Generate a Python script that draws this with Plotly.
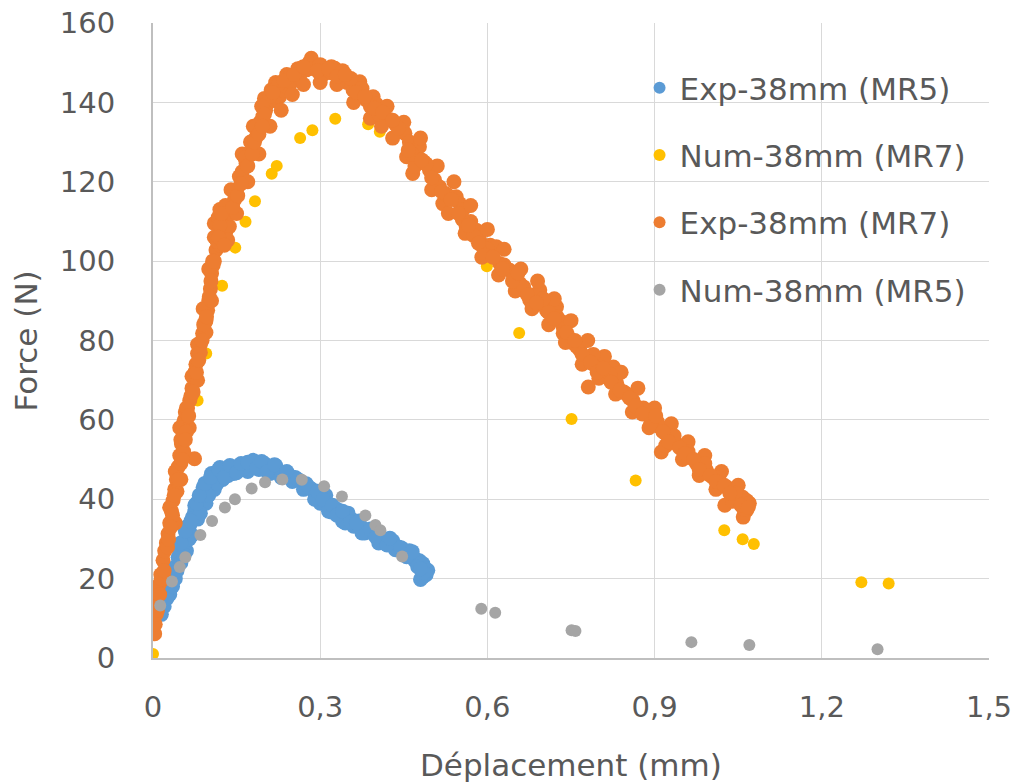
import plotly.graph_objects as go

# ---------------- data ----------------
x_tick_vals = [0, 0.3, 0.6, 0.9, 1.2, 1.5]
x_tick_text = ["0", "0,3", "0,6", "0,9", "1,2", "1,5"]
y_tick_vals = [0, 20, 40, 60, 80, 100, 120, 140, 160]
y_tick_text = ["0", "20", "40", "60", "80", "100", "120", "140", "160"]

series_names = ["Exp-38mm (MR5)", "Num-38mm (MR7)", "Exp-38mm (MR7)", "Num-38mm (MR5)"]

exp_mr5_x = [0.012, 0.018, 0.022, 0.028, 0.033, 0.036, 0.040, 0.045, 0.048, 0.052, 0.057, 0.062, 0.066,
             0.071, 0.075, 0.080, 0.087, 0.092, 0.098, 0.107, 0.112, 0.120, 0.131, 0.140, 0.148, 0.155,
             0.165, 0.174, 0.182, 0.190, 0.198, 0.207, 0.215, 0.225, 0.235, 0.245, 0.255, 0.265, 0.275,
             0.285, 0.292, 0.299, 0.308, 0.318, 0.327, 0.335, 0.345, 0.352, 0.359, 0.368, 0.378, 0.387,
             0.395, 0.405, 0.414, 0.422, 0.431, 0.440, 0.450, 0.461, 0.470, 0.478, 0.484, 0.488, 0.493,
             0.490, 0.484, 0.480,
             0.050, 0.060, 0.070, 0.080, 0.095, 0.110, 0.125, 0.145, 0.170,
             0.030, 0.045, 0.060, 0.075, 0.090, 0.105, 0.120, 0.180, 0.200, 0.220,
             0.310, 0.330, 0.350, 0.370, 0.400, 0.430, 0.460,
             0.300, 0.320, 0.340, 0.360, 0.380, 0.410, 0.440, 0.470,
             0.040, 0.055, 0.065, 0.085, 0.100, 0.115, 0.135, 0.160, 0.190, 0.210, 0.230, 0.250,
             0.270, 0.290, 0.315, 0.345, 0.375, 0.405, 0.435, 0.455, 0.475, 0.485, 0.030, 0.020,
             0.015, 0.025, 0.035, 0.043, 0.050, 0.058, 0.068, 0.078, 0.083, 0.093, 0.103, 0.118,
             0.128, 0.138, 0.150, 0.158, 0.170, 0.186, 0.195, 0.205, 0.218, 0.240, 0.260, 0.280,
             0.295, 0.305, 0.322, 0.330, 0.340, 0.355, 0.365, 0.390, 0.400, 0.420, 0.425, 0.445,
             0.465, 0.480]
exp_mr5_y = [12.0, 14.5, 16.0, 18.0, 19.0, 21.0, 23.0, 25.4, 27.0, 28.5, 29.6, 31.5, 33.5,
             35.5, 37.0, 38.5, 40.6, 42.0, 43.5, 44.8, 46.0, 46.5, 47.3, 47.5, 48.2, 48.1,
             48.4, 48.6, 49.0, 48.5, 47.9, 48.0, 47.7, 46.8, 46.4, 46.0, 45.5, 44.5, 43.9,
             42.5, 41.5, 40.6, 39.5, 38.0, 37.0, 36.4, 35.5, 35.0, 34.7, 33.5, 32.5, 32.0,
             31.3, 30.5, 30.0, 29.5, 28.8, 28.0, 27.2, 26.3, 25.0, 24.5, 23.8, 22.5, 22.1,
             21.0, 20.4, 19.8,
             24.0, 27.0, 31.0, 35.0, 39.0, 42.5, 45.0, 46.5, 47.0,
             22.0, 28.0, 33.0, 38.5, 43.0, 46.5, 48.0, 49.8, 49.0, 48.5,
             41.0, 37.5, 36.5, 34.5, 32.0, 29.5, 27.0,
             39.0, 36.8, 34.5, 33.2, 31.5, 29.5, 27.2, 24.5,
             20.0, 26.0, 30.0, 36.5, 41.0, 44.0, 46.0, 47.5, 47.5, 46.5, 45.5, 44.5,
             42.5, 40.0, 37.0, 34.0, 31.5, 29.0, 27.3, 25.5, 23.0, 21.5, 16.0, 13.0,
             11.0, 15.0, 18.0, 22.0, 29.0, 32.0, 34.5, 39.0, 41.0, 44.0, 45.5, 47.5,
             45.5, 48.5, 46.7, 49.0, 49.3, 47.8, 49.5, 47.0, 48.7, 47.0, 45.0, 43.0,
             42.0, 40.0, 38.5, 36.0, 37.0, 34.2, 34.0, 32.5, 30.5, 28.5, 30.2, 27.8,
             26.8, 22.5]

num_mr7_x = [0.0, 0.080, 0.0955, 0.124, 0.1476, 0.166, 0.183, 0.213, 0.222, 0.264, 0.286, 0.327,
             0.386, 0.407, 0.599, 0.657, 0.751, 0.866, 1.025, 1.058, 1.078, 1.271, 1.320]
num_mr7_y = [1.0, 64.9, 76.7, 93.8, 103.4, 109.9, 115.1, 122.0, 124.0, 131.0, 133.0, 135.9,
             134.5, 132.6, 98.7, 81.9, 60.2, 44.7, 32.2, 29.9, 28.7, 19.1, 18.8]

exp_mr7_x = [0.003, 0.004, 0.006, 0.007, 0.009, 0.011, 0.014, 0.018, 0.021, 0.024, 0.027, 0.030, 0.033,
             0.036, 0.039, 0.042, 0.045, 0.048, 0.051, 0.054, 0.056, 0.048, 0.0745, 0.058, 0.062, 0.066,
             0.070, 0.0745, 0.077, 0.080, 0.085, 0.089, 0.093, 0.098, 0.100, 0.103, 0.105, 0.108, 0.113,
             0.110, 0.110, 0.117, 0.125, 0.130, 0.137, 0.134, 0.140, 0.146, 0.150, 0.155, 0.160, 0.167,
             0.172, 0.179, 0.184, 0.188, 0.192, 0.197, 0.202, 0.206, 0.212, 0.218, 0.227, 0.233, 0.239,
             0.248, 0.257, 0.266, 0.275, 0.284, 0.290, 0.299, 0.305, 0.311, 0.318, 0.326, 0.333, 0.341,
             0.348, 0.359, 0.365, 0.371, 0.377, 0.383, 0.395, 0.401, 0.407, 0.416, 0.425, 0.435, 0.448,
             0.452, 0.455, 0.466, 0.460, 0.473, 0.478, 0.486, 0.496, 0.505, 0.514, 0.520, 0.530, 0.544,
             0.550, 0.556, 0.562, 0.570, 0.580, 0.586, 0.592, 0.605, 0.616, 0.622, 0.630, 0.640, 0.649,
             0.658, 0.667, 0.676, 0.685, 0.694, 0.700, 0.706, 0.715, 0.724, 0.730, 0.736, 0.736, 0.745,
             0.752, 0.766, 0.775, 0.781, 0.790, 0.802, 0.814, 0.826, 0.832, 0.845, 0.861, 0.872, 0.885,
             0.897, 0.909, 0.912, 0.920, 0.930, 0.939, 0.950, 0.963, 0.975, 0.985, 0.993, 1.005, 1.017,
             1.026, 1.030, 1.041, 1.050, 1.058, 1.065, 1.065, 1.059, 1.062,
             0.420, 0.450, 0.480, 0.510, 0.540, 0.570, 0.600, 0.630, 0.660, 0.690, 0.720, 0.750, 0.780,
             0.810, 0.840, 0.870, 0.900, 0.930, 0.960, 0.990, 1.020, 1.050,
             0.430, 0.470, 0.500, 0.530, 0.560, 0.590, 0.620, 0.650, 0.680, 0.710, 0.740, 0.770, 0.800,
             0.830, 0.860, 0.890, 0.920, 0.950, 0.980, 1.010, 1.040,
             0.030, 0.040, 0.050, 0.060, 0.070, 0.080, 0.090, 0.100, 0.120, 0.140, 0.160, 0.180, 0.200,
             0.220, 0.240, 0.260, 0.280,
             0.020, 0.040, 0.050, 0.065, 0.080, 0.095, 0.105, 0.120, 0.150, 0.170, 0.190, 0.210, 0.230,
             0.250, 0.270, 0.300, 0.330, 0.360, 0.390, 0.410,
             0.440, 0.465, 0.490, 0.525, 0.555, 0.575, 0.600, 0.635, 0.665, 0.700, 0.725, 0.760, 0.790,
             0.820, 0.850, 0.880, 0.905, 0.935, 0.960, 0.990, 1.015, 1.045, 1.060, 1.070,
             0.260, 0.280, 0.300, 0.320, 0.340, 0.355, 0.375, 0.390, 0.405, 0.245, 0.225, 0.210, 0.195,
             0.130, 0.120, 0.115, 0.107, 0.095, 0.085, 0.075, 0.068, 0.060, 0.055, 0.050, 0.043, 0.035,
             0.026, 0.015, 0.008, 0.165, 0.175, 0.185,
             0.458, 0.482, 0.500, 0.518, 0.535, 0.548, 0.566, 0.584, 0.596, 0.610, 0.627, 0.645, 0.655,
             0.672, 0.688, 0.710, 0.720, 0.742, 0.757, 0.770, 0.785, 0.797, 0.808, 0.822, 0.838, 0.855,
             0.866, 0.878, 0.893, 0.902, 0.915, 0.925, 0.945, 0.955, 0.970, 0.980, 1.000, 1.010, 1.025,
             1.035, 1.055, 1.068,
             0.235, 0.253, 0.270, 0.295, 0.315, 0.330, 0.345, 0.365, 0.380, 0.398, 0.412, 0.430, 0.200,
             0.215,
             0.012, 0.020, 0.028, 0.032, 0.038, 0.046, 0.052, 0.058, 0.064, 0.072, 0.078, 0.082, 0.088,
             0.091, 0.096, 0.101, 0.104, 0.110, 0.118, 0.123, 0.128, 0.143, 0.152, 0.158, 0.170, 0.178,
             0.182, 0.190, 0.196]
exp_mr7_y = [6.1, 8.5, 11.1, 13.5, 16.2, 18.5, 21.0, 24.6, 27.0, 29.0, 31.3, 34.0, 37.0,
             39.7, 42.5, 45.0, 48.1, 51.0, 54.0, 57.0, 59.9, 58.0, 50.2, 62.0, 63.0, 64.9,
             68.0, 70.8, 74.0, 76.7, 79.0, 81.8, 84.5, 87.6, 90.0, 93.0, 96.9, 99.0, 102.8,
             106.0, 109.5, 111.0, 110.3, 107.0, 108.7, 105.3, 112.0, 115.4, 118.0, 121.3, 122.5, 124.6,
             127.0, 128.8, 131.0, 133.0, 135.0, 136.4, 138.0, 139.8, 143.1, 140.5, 141.4, 143.0, 144.0,
             145.0, 146.5, 147.5, 148.2, 151.1, 149.0, 147.3, 147.0, 148.2, 147.5, 148.6, 147.5, 146.5,
             145.0, 143.1, 144.0, 145.2, 142.0, 140.6, 141.4, 139.5, 138.1, 136.5, 135.6, 134.5, 133.0,
             132.2, 126.3, 122.1, 130.0, 128.8, 128.8, 125.0, 123.0, 120.5, 118.7, 114.5, 116.5, 116.2,
             114.5, 112.9, 108.7, 110.0, 107.8, 105.5, 103.6, 104.0, 103.6, 99.4, 99.0, 97.7, 96.0,
             94.4, 92.5, 90.2, 91.5, 92.7, 89.0, 87.6, 87.0, 88.5, 85.0, 83.4, 81.8, 81.0,
             79.5, 77.6, 75.5, 68.3, 74.0, 73.3, 71.0, 73.3, 69.2, 67.0, 64.9, 63.0, 61.6,
             60.0, 58.2, 51.9, 56.5, 55.0, 54.0, 52.5, 50.6, 49.0, 48.0, 47.3, 45.5, 43.9,
             38.5, 43.0, 42.2, 41.0, 40.5, 39.7, 37.2, 35.5, 38.5,
             139.0, 135.0, 131.0, 124.0, 120.0, 114.0, 108.0, 103.0, 98.0, 95.0, 90.5, 85.0, 80.0,
             76.0, 72.0, 68.0, 63.0, 59.0, 54.5, 51.0, 47.0, 43.5,
             131.0, 124.0, 118.0, 112.0, 107.0, 101.0, 96.5, 92.5, 88.0, 84.0, 79.5, 74.0, 70.5,
             66.5, 62.0, 58.0, 53.5, 50.0, 46.0, 42.5, 39.5,
             38.0, 47.0, 55.0, 63.0, 71.0, 79.0, 88.0, 98.0, 113.0, 118.0, 127.0, 134.0, 141.0,
             145.0, 147.0, 148.5, 150.0,
             20.0, 34.0, 45.0, 58.0, 70.0, 82.0, 90.0, 104.0, 112.0, 120.0, 127.0, 134.0, 138.0,
             142.0, 144.5, 145.0, 144.5, 140.0, 136.0, 134.0,
             133.5, 127.0, 124.5, 117.0, 110.5, 106.5, 103.0, 98.0, 93.5, 90.5, 86.0, 78.5, 76.5,
             71.5, 66.5, 63.0, 59.5, 56.0, 52.0, 49.0, 45.5, 41.5, 37.5, 39.0,
             148.0, 148.5, 149.5, 149.0, 148.0, 146.0, 143.5, 139.0, 137.0, 146.5, 144.5, 141.5, 139.0,
             114.0, 109.0, 105.0, 100.0, 85.0, 77.0, 72.0, 66.0, 57.0, 52.0, 49.0, 42.0, 36.0,
             28.0, 20.0, 12.0, 126.0, 130.0, 134.0,
             128.0, 125.5, 121.0, 117.5, 115.5, 112.0, 109.0, 104.5, 101.5, 101.0, 98.0, 95.0, 97.0,
             91.5, 89.5, 87.0, 85.5, 82.0, 80.0, 76.5, 74.5, 72.0, 73.0, 69.5, 67.5, 65.5,
             63.5, 61.5, 59.0, 61.0, 57.0, 54.5, 53.0, 51.5, 50.0, 47.5, 46.0, 44.5, 43.5,
             41.5, 38.5, 38.0,
             145.5, 147.0, 149.0, 148.0, 148.5, 146.5, 147.0, 142.5, 141.5, 138.5, 137.5, 135.5, 137.0,
             142.5,
             16.0, 22.0, 30.0, 33.0, 41.0, 45.0, 50.0, 55.0, 61.0, 67.0, 72.0, 75.0, 80.0,
             84.0, 86.0, 91.0, 95.0, 100.0, 106.0, 112.0, 104.0, 113.5, 116.5, 119.5, 124.0, 127.0,
             130.0, 132.0, 134.0]

num_mr5_x = [0.013, 0.034, 0.048, 0.058, 0.085, 0.106, 0.129, 0.147, 0.177, 0.201, 0.232, 0.267,
             0.307, 0.339, 0.381, 0.399, 0.408, 0.447, 0.589, 0.614, 0.751, 0.758, 0.966, 1.070, 1.300]
num_mr5_y = [13.2, 19.3, 22.9, 25.4, 31.0, 34.5, 37.9, 40.0, 42.7, 44.3, 45.0, 44.9,
             43.3, 40.7, 35.9, 33.5, 32.2, 25.6, 12.4, 11.4, 7.0, 6.8, 4.0, 3.3, 2.2]

# ---------------- styling ----------------
FONT = "DejaVu Sans"
TXT = "#595959"
GRID = "#d9d9d9"
AXIS = "#bfbfbf"
colors = ["#5B9BD5", "#FFC000", "#ED7D31", "#A5A5A5"]
sizes = [15, 12, 15, 12]

fig = go.Figure()
data = [(exp_mr5_x, exp_mr5_y), (num_mr7_x, num_mr7_y), (exp_mr7_x, exp_mr7_y), (num_mr5_x, num_mr5_y)]
for i, (xs, ys) in enumerate(data):
    fig.add_trace(go.Scatter(
        x=xs, y=ys, mode="markers", name=series_names[i], legendgroup=f"g{i}",
        marker=dict(color=colors[i], size=sizes[i], line=dict(width=0)),
    ))

fig.update_layout(
    width=1017, height=783,
    margin=dict(l=153, r=28, t=23, b=125, autoexpand=False),
    paper_bgcolor="white", plot_bgcolor="white",
    font=dict(family=FONT, size=29, color=TXT),
    showlegend=True,
    legend=dict(
        x=0.582, y=0.94, xanchor="left", yanchor="top",
        bgcolor="rgba(0,0,0,0)", borderwidth=0,
        traceorder="grouped", tracegroupgap=24, itemsizing="constant",
        font=dict(family=FONT, size=31, color=TXT),
    ),
    xaxis=dict(
        range=[0, 1.5], tickvals=x_tick_vals, ticktext=x_tick_text,
        showgrid=True, gridcolor=GRID, gridwidth=1.3,
        showline=True, linecolor=AXIS, linewidth=2, zeroline=False,
        ticks="", ticklabelstandoff=22, tickfont=dict(family=FONT, size=29, color=TXT),
        fixedrange=True,
    ),
    yaxis=dict(
        range=[0, 160], tickvals=y_tick_vals, ticktext=y_tick_text,
        showgrid=True, gridcolor=GRID, gridwidth=1.3,
        showline=True, linecolor=AXIS, linewidth=2, zeroline=False,
        ticks="", ticklabelstandoff=30, tickfont=dict(family=FONT, size=29, color=TXT),
        fixedrange=True,
    ),
    annotations=[
        dict(text="Déplacement (mm)", xref="paper", yref="paper", x=0.5, y=-0.169,
             xanchor="center", yanchor="middle", showarrow=False,
             font=dict(family=FONT, size=31, color=TXT)),
        dict(text="Force (N)", xref="paper", yref="paper", x=-0.152, y=0.5,
             xanchor="center", yanchor="middle", showarrow=False, textangle=-90,
             font=dict(family=FONT, size=31, color=TXT)),
    ],
)

fig.write_html("out.html")
